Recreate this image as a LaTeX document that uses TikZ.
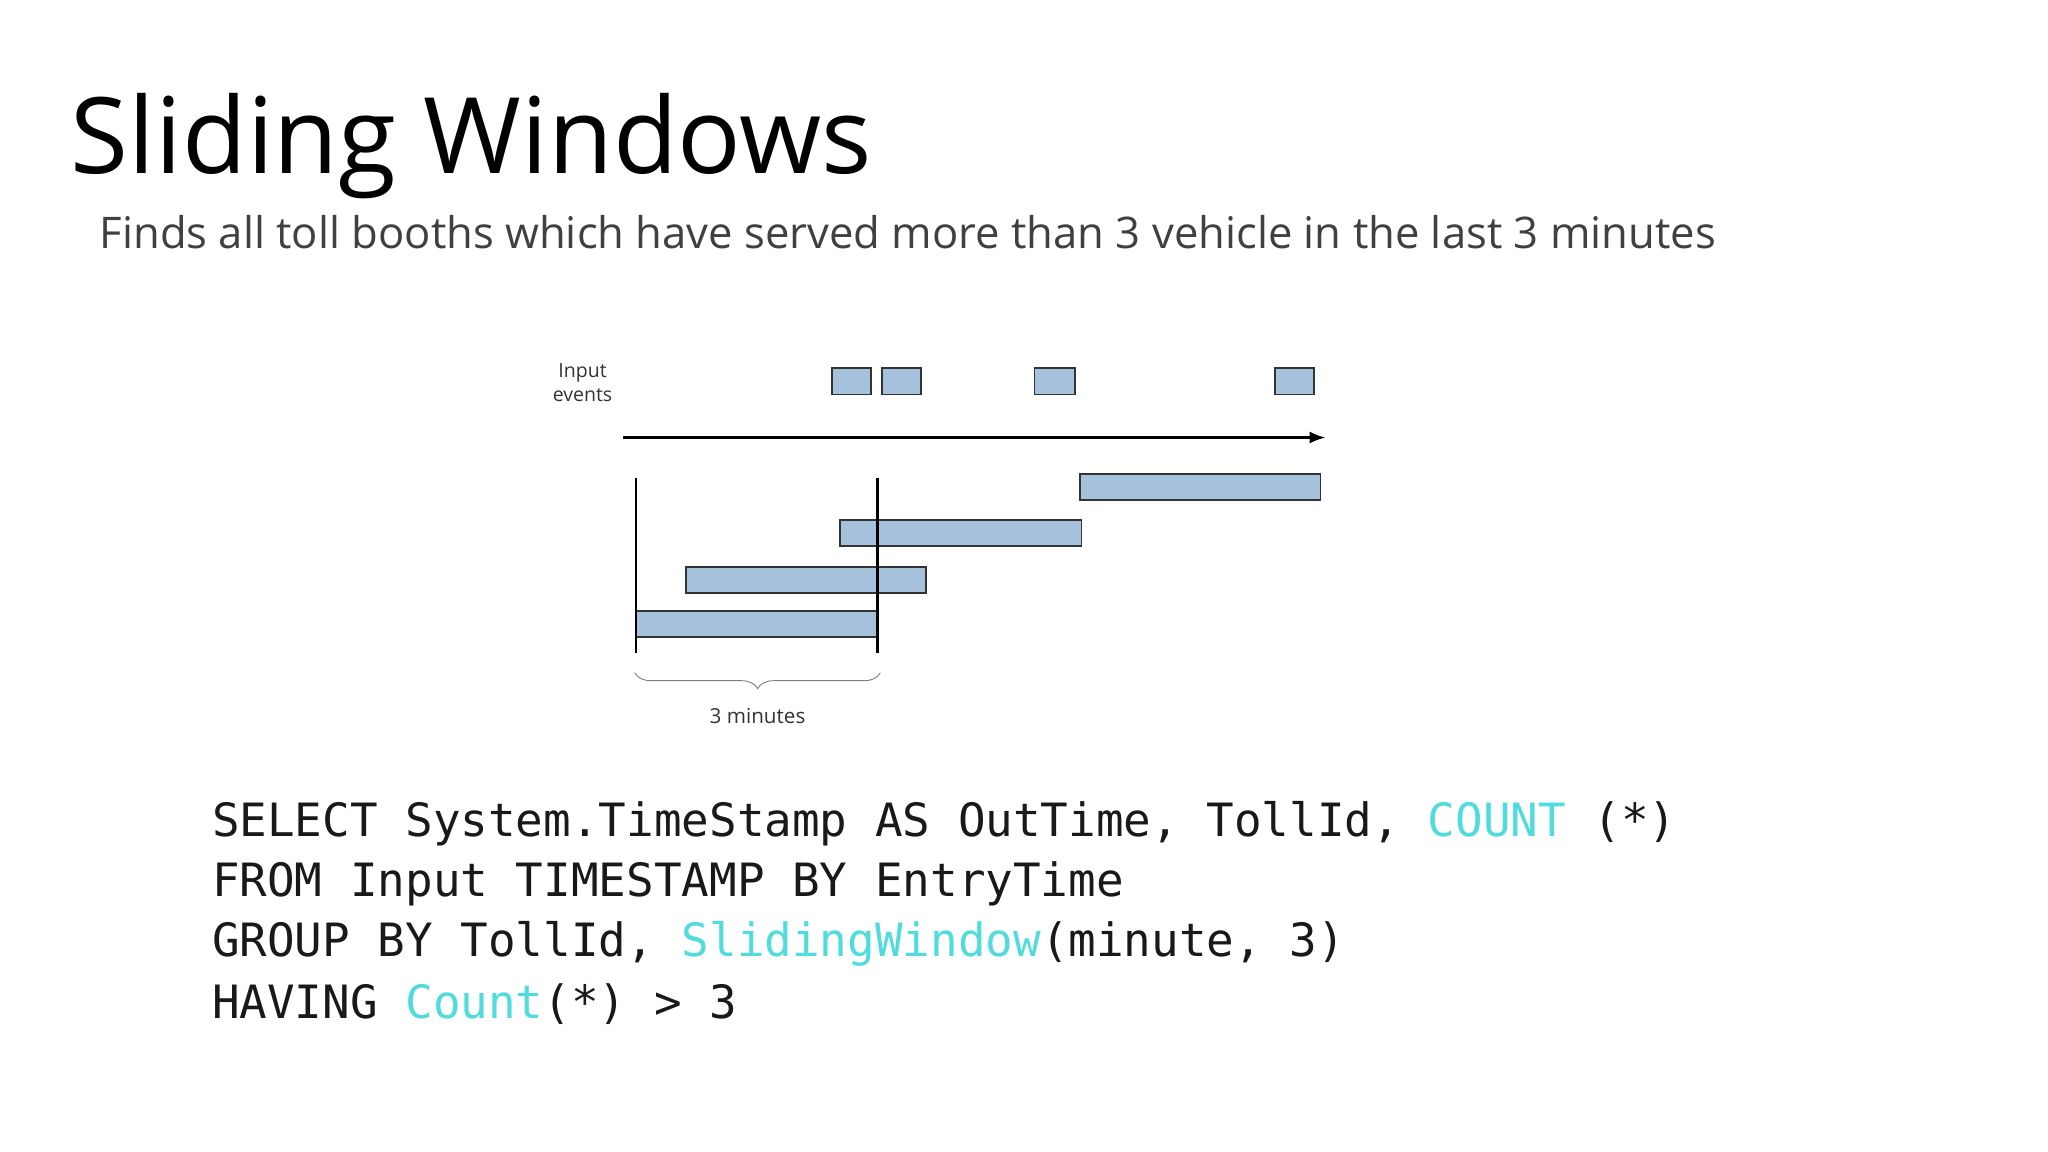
\documentclass[tikz,border=0pt]{standalone}
\usepackage{fontspec}
\setmainfont{Open Sans}
\newfontfamily\codefont{DejaVu Sans Mono}
\usetikzlibrary{decorations.pathreplacing,arrows.meta}
\definecolor{boxblue}{RGB}{165,193,220}
\definecolor{kw}{RGB}{80,220,220}
\definecolor{sub}{RGB}{64,64,64}
\tikzset{ev/.style={draw=black!80,fill=boxblue,line width=0.8pt},
 codeline/.style={anchor=west,inner sep=0,text=black!90,font=\codefont\fontsize{20}{24}\selectfont}}
\begin{document}
\begin{tikzpicture}[x=0.02cm,y=-0.02cm]
\useasboundingbox (0,0) rectangle (1568,882);
\node[anchor=base west,inner sep=0,font=\fontsize{46}{54}\selectfont] (title) at (54,133) {Sliding Windows};
\node[anchor=base west,inner sep=0,text=sub,font=\fontsize{19}{22}\selectfont] (subt) at (76,190) {Finds all toll booths which have served more than 3 vehicle in the last 3 minutes};
\node[align=center,font=\fontsize{8.5}{10.5}\selectfont,inner sep=0,text=black!80] (inp) at (446,293) {Input\\events};
\draw[ev] (637,282) rectangle (667,302);
\draw[ev] (675,282) rectangle (705,302);
\draw[ev] (792,282) rectangle (823,302);
\draw[ev] (976,282) rectangle (1006,302);
\coordinate (a0) at (477,335); \coordinate (a1) at (1015,335);
\draw[line width=1.2pt,-{Latex[length=7pt]}] (a0) -- (a1);
\draw[ev] (827,363) rectangle (1011,383);
\draw[ev] (643,398) rectangle (828,418);
\draw[ev] (525,434) rectangle (709,454);
\draw[ev] (487,468) rectangle (671,488);
\draw[line width=1.2pt] (487,366) -- (487,500);
\draw[line width=1.2pt] (672,366) -- (672,500);
\draw[decorate,decoration={brace,mirror,amplitude=7pt},gray] (486,515) -- (674,515);
\node[font=\fontsize{9}{11}\selectfont,inner sep=0,text=black!80] (mins) at (580,548) {3 minutes};
\node[codeline] (c1) at (162,631) {SELECT System.TimeStamp AS OutTime, TollId, \textcolor{kw}{COUNT} (*)};
\node[codeline] (c2) at (162,677) {FROM Input TIMESTAMP BY EntryTime};
\node[codeline] (c3) at (162,723) {GROUP BY TollId, \textcolor{kw}{SlidingWindow}(minute, 3)};
\node[codeline] (c4) at (162,769) {HAVING \textcolor{kw}{Count}(*) > 3};
\end{tikzpicture}
\end{document}
